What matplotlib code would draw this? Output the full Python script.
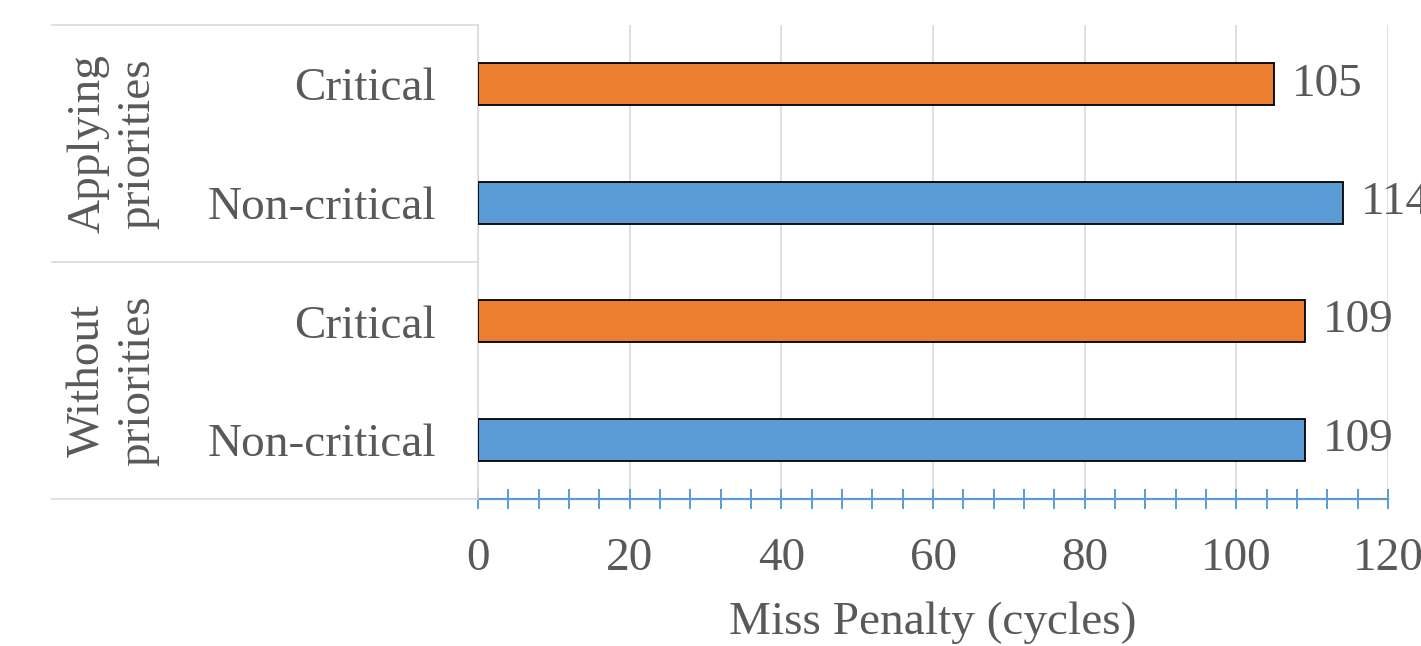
import matplotlib
matplotlib.use("Agg")
import matplotlib.pyplot as plt
from matplotlib.lines import Line2D
from matplotlib.transforms import blended_transform_factory
from matplotlib.ticker import MultipleLocator

# Categories listed bottom to top
groups = ["Without\npriorities", "Applying\npriorities"]
categories = ["Non-critical", "Critical", "Non-critical", "Critical"]
category_group = [0, 0, 1, 1]
values = [109, 109, 114, 105]
bar_colors = ["#5B9BD5", "#ED7D31", "#5B9BD5", "#ED7D31"]
x_label = "Miss Penalty (cycles)"

plt.rcParams["font.family"] = ["Liberation Serif", "DejaVu Serif"]
text_color = "#595959"
grid_color = "#D9D9D9"
axis_color = "#5B9BD5"
fs = 34

fig = plt.figure(figsize=(14.21, 6.46), dpi=100)
ax = fig.add_axes([478 / 1421, 1 - 499 / 646, (1388 - 478) / 1421, (499 - 25) / 646])

ypos = list(range(len(categories)))
ax.barh(ypos, values, height=0.355, color=bar_colors, edgecolor="black",
        linewidth=1.3, zorder=3)

for y, v in zip(ypos, values):
    ax.annotate(f"{v}", xy=(v, y), xytext=(13, 0), textcoords="offset points",
                ha="left", va="center", fontsize=fs, color=text_color,
                annotation_clip=False)

ax.set_xlim(0, 120)
ax.set_ylim(-0.5, len(categories) - 0.5)
ax.xaxis.set_major_locator(MultipleLocator(20))
ax.xaxis.set_minor_locator(MultipleLocator(4))
ax.grid(axis="x", which="major", color=grid_color, linewidth=1.2, zorder=0)
ax.set_axisbelow(True)

for side in ["top", "right"]:
    ax.spines[side].set_visible(False)
ax.spines["left"].set_color(grid_color)
ax.spines["left"].set_linewidth(1.2)
ax.spines["bottom"].set_color(axis_color)
ax.spines["bottom"].set_linewidth(1.6)

ax.tick_params(axis="x", which="both", direction="inout", length=14,
               width=1.4, color=axis_color, labelsize=fs,
               labelcolor=text_color, pad=21)
ax.tick_params(axis="y", length=0, labelsize=fs, labelcolor=text_color, pad=30)
ax.set_yticks(ypos)
ax.set_yticklabels(categories)
ax.set_xlabel(x_label, fontsize=fs, color=text_color, labelpad=15)

# Category grouping table on the left
trans = blended_transform_factory(fig.transFigure, ax.transData)
x0 = 52 / 1421
x1 = 478 / 1421
for yb in [-0.5, 1.5, 3.5]:
    fig.add_artist(Line2D([x0, x1], [yb, yb], transform=trans,
                          color=grid_color, linewidth=1.2))

for gi, label in enumerate(groups):
    members = [y for y, g in zip(ypos, category_group) if g == gi]
    yc = sum(members) / len(members)
    fig.text(113 / 1421, yc, label, transform=trans, rotation=90,
             ha="center", va="center", multialignment="center",
             fontsize=fs, color=text_color, linespacing=1.2)

fig.savefig("out.png", dpi=100)
